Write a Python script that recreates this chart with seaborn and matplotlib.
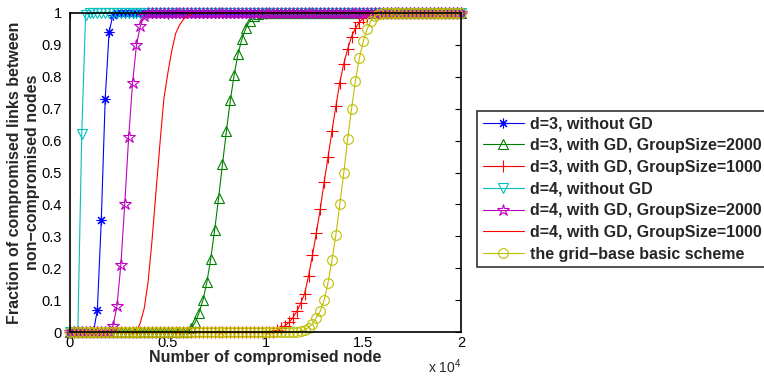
import matplotlib
matplotlib.use("Agg")
import matplotlib.pyplot as plt
import seaborn as sns

# ---------------- data ----------------
x_nodes = list(range(0, 20001, 200))  # number of compromised nodes

d3_noGD = [0] * 7 + [0.07, 0.35, 0.73, 0.94, 0.995] + [1] * 89
d3_GD2000 = [0] * 31 + [0.012, 0.03, 0.06, 0.10, 0.156, 0.23, 0.32, 0.42, 0.526,
                        0.63, 0.726, 0.807, 0.873, 0.92, 0.953, 0.976, 0.99, 0.997] + [1] * 52
d3_GD1000 = [0] * 53 + [0.005, 0.012, 0.02, 0.03, 0.045, 0.065, 0.09, 0.12, 0.175,
                        0.24, 0.31, 0.385, 0.47, 0.548, 0.63, 0.708, 0.782, 0.84,
                        0.886, 0.926, 0.952, 0.971, 0.983, 0.992, 0.997] + [1] * 23
d4_noGD = [0] * 3 + [0.62, 0.995] + [1] * 96
d4_GD2000 = [0] * 11 + [0.02, 0.08, 0.21, 0.40, 0.61, 0.78, 0.90, 0.96, 0.99] + [1] * 81
d4_GD1000 = [0] * 18 + [0.03, 0.075, 0.16, 0.29, 0.44, 0.59, 0.73, 0.81, 0.88,
                        0.935, 0.962, 0.98, 0.99, 0.997] + [1] * 69
grid_basic = [0] * 59 + [0.003, 0.007, 0.014, 0.025, 0.045, 0.065, 0.10, 0.155, 0.225,
                         0.305, 0.40, 0.497, 0.604, 0.70, 0.787, 0.858, 0.911, 0.95,
                         0.976, 0.99, 0.997] + [1] * 21

labels = ["d=3, without GD",
          "d=3, with GD, GroupSize=2000",
          "d=3, with GD, GroupSize=1000",
          "d=4, without GD",
          "d=4, with GD, GroupSize=2000",
          "d=4, with GD, GroupSize=1000",
          "the grid\u2212base basic scheme"]
series = [d3_noGD, d3_GD2000, d3_GD1000, d4_noGD, d4_GD2000, d4_GD1000, grid_basic]

x_ticks = [0, 5000, 10000, 15000, 20000]
x_ticklabels = ["0", "0.5", "1", "1.5", "2"]
y_ticks = [i / 10 for i in range(11)]
y_ticklabels = ["0"] + [f"{v:.1f}" for v in y_ticks[1:-1]] + ["1"]

# ---------------- style ----------------
sns.set_style("white")
plt.rcParams["font.family"] = ["Liberation Sans", "DejaVu Sans"]
plt.rcParams["mathtext.fontset"] = "custom"
plt.rcParams["mathtext.rm"] = "Liberation Sans"

colors = ["#0000ff", "#008000", "#ff0000", "#00bfbf", "#bf00bf", "#ff0000", "#bfbf00"]
markers = [(8, 2, 0), "^", "+", "v", "*", None, "o"]
msizes = [7, 7, 8, 7, 9, 0, 7]

fig = plt.figure(figsize=(7.64, 3.76), dpi=100)
ax = fig.add_axes([70 / 764, 1 - 332 / 376, 391 / 764, 319 / 376])

for y, lab, c, m, ms in zip(series, labels, colors, markers, msizes):
    kw = dict(color=c, linewidth=0.8, label=lab, clip_on=False)
    if m is not None:
        kw.update(marker=m, markersize=ms, markerfacecolor="none",
                  markeredgecolor=c, markeredgewidth=0.8)
    sns.lineplot(x=x_nodes, y=y, ax=ax, **kw)

ax.set_xlim(0, 20000)
ax.set_ylim(0, 1)
ax.set_xticks(x_ticks)
ax.set_xticklabels(x_ticklabels)
ax.set_yticks(y_ticks)
ax.set_yticklabels(y_ticklabels)
ax.tick_params(direction="in", length=4, width=0.8, top=True, right=True,
               labelsize=10.5, colors="black")
ax.tick_params(axis="x", pad=3)
ax.tick_params(axis="y", pad=6)
for sp in ax.spines.values():
    sp.set_visible(True)
    sp.set_color("black")
    sp.set_linewidth(1.2)

ax.set_xlabel("Number of compromised node", fontsize=11.5, fontweight="bold", labelpad=0)
ax.set_ylabel("Fraction of compromised links between\nnon\u2212compromised nodes",
              fontsize=11.5, fontweight="bold", linespacing=1.2)
ax.yaxis.set_label_coords(-0.077, 0.5)

fig.text(461 / 764, 0 / 376, r"x 10$^{4}$", ha="right", va="bottom", fontsize=10)

leg = ax.legend(loc="center left", bbox_to_anchor=(477 / 764, 1 - 189 / 376),
                bbox_transform=fig.transFigure, frameon=True, fancybox=False,
                edgecolor="black", prop={"weight": "bold", "size": 11.5},
                handlelength=2.6, handletextpad=0.35, labelspacing=0.42,
                borderpad=0.35, borderaxespad=0, numpoints=1)
leg.get_frame().set_linewidth(1.2)

fig.savefig("out.png", dpi=100)
